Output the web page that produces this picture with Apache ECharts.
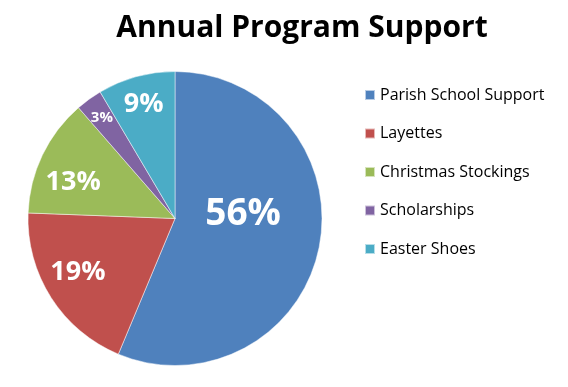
<!DOCTYPE html>
<html><head><meta charset="utf-8">
<script src="https://cdn.jsdelivr.net/npm/echarts@6/dist/echarts.min.js"></script>
<style>html,body{margin:0;padding:0;background:#fff}#c{width:568px;height:387px}</style>
</head><body><div id="c"></div>
<script>
const categories = ['Parish School Support', 'Layettes', 'Christmas Stockings', 'Scholarships', 'Easter Shoes'];
const values = [56.3, 19.3, 13.0, 2.9, 8.5];
const colors = ['#4F81BD', '#C0504D', '#9BBB59', '#8064A2', '#4BACC6'];
const labelSizes = [37, 27, 27, 15, 27];
const labelRadiusFrac = [0.465, 0.75, 0.74, 0.856, 0.82];
const labelAngleShift = [-16.8, 4.3, -4.9, 0.3, 0.2];

const CX = 175, CY = 218.5, R = 147;
const total = values.reduce((a, b) => a + b, 0);
const midAngles = [];
let acc = 0;
values.forEach(v => { midAngles.push((acc + v / 2) / total * 360); acc += v; });

const font = '"Open Sans", sans-serif';
const chart = echarts.init(document.getElementById('c'));
chart.setOption({
  animation: false,
  color: colors,
  title: {
    text: 'Annual Program Support',
    left: 297, top: 8, textAlign: 'center',
    textStyle: { fontFamily: font, fontSize: 30, fontWeight: 'bold', color: '#000' }
  },
  legend: {
    orient: 'vertical', left: 359, top: 80,
    itemWidth: 10, itemHeight: 10, itemGap: 18.5,
    icon: 'rect',
    textStyle: { fontFamily: font, fontSize: 16, color: '#000', lineHeight: 20 },
    data: categories
  },
  series: [{
    type: 'pie',
    center: [CX, CY], radius: [0, R],
    startAngle: 90, clockwise: true,
    itemStyle: { borderColor: 'rgba(255,255,255,0.6)', borderWidth: 0.8 },
    label: {
      show: true, position: 'inside',
      formatter: p => Math.round(p.percent) + '%',
      color: '#fff', fontWeight: 'bold', fontFamily: font
    },
    labelLine: { show: false },
    labelLayout: function (p) {
      const i = p.dataIndex;
      const a = (midAngles[i] + labelAngleShift[i]) * Math.PI / 180;
      const r = R * labelRadiusFrac[i];
      return { x: CX + r * Math.sin(a), y: CY - r * Math.cos(a) + 2, align: 'center', verticalAlign: 'middle' };
    },
    emphasis: { disabled: true },
    data: categories.map((c, i) => ({ name: c, value: values[i], label: { fontSize: labelSizes[i] } }))
  }]
});
</script></body></html>
